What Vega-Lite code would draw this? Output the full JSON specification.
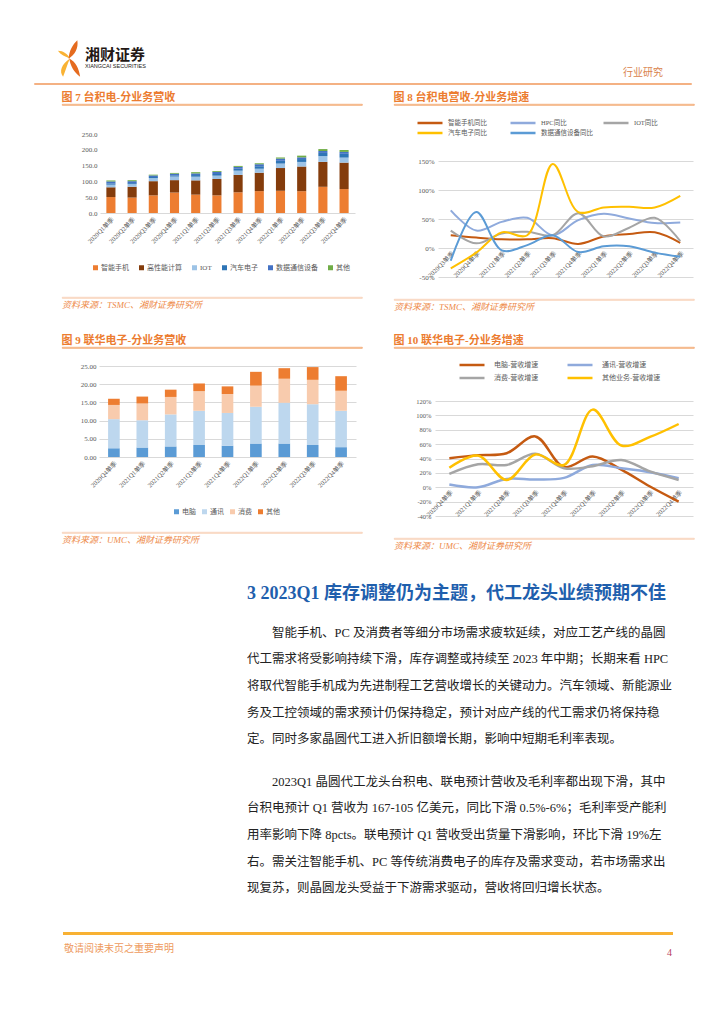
{
"$schema": "https://vega.github.io/schema/vega-lite/v6.json",
"background": "white",
"padding": {"left": 33, "top": 40, "right": 0, "bottom": 0},
"config": {
  "font": "Liberation Serif, Noto Sans CJK SC",
  "view": {"stroke": null},
  "axis": {"labelColor": "#595959", "labelFontSize": 7, "ticks": false, "domain": false, "grid": false, "gridColor": "#D9D9D9", "labelFont": "Liberation Serif, Noto Sans CJK SC"},
  "legend": {"labelColor": "#595959", "labelFontSize": 7, "labelFont": "Liberation Serif, Noto Sans CJK SC"},
  "title": {"font": "Liberation Serif, Noto Sans CJK SC"}
},
"resolve": {"scale": {"color": "independent", "shape": "independent"}, "legend": {"color": "independent", "shape": "independent"}},
"spacing": 0,
"vconcat": [
  {"spacing": 4, "resolve": {"scale": {"color": "independent", "shape": "independent"}}, "vconcat": [
    {"spacing": 0, "resolve": {"scale": {"color": "independent", "shape": "independent"}}, "hconcat": [
      {"width": 22, "height": 1, "data": {"values": []}, "mark": "point"},
      {"width": 26, "height": 37,
       "data": {"values": [{"part": "a"}, {"part": "b"}]},
       "mark": {"type": "point", "filled": true, "size": 1369, "opacity": 1, "strokeWidth": 0},
       "encoding": {
         "shape": {"field": "part", "type": "nominal", "scale": {"domain": ["a", "b"], "range": ["M0.05,0C-0.2,-0.1,-0.45,-0.2,-0.6,-0.42C-0.3,-0.42,-0.08,-0.25,0.05,0ZM0.05,0C-0.1,0.35,-0.2,0.7,-0.32,0.98C-0.55,0.7,-0.4,0.3,0.05,0Z", "M-0.02,0.02C0,-0.4,0.2,-0.75,0.45,-0.98C0.52,-0.55,0.32,-0.2,-0.02,0.02ZM0.02,0C0.35,0.18,0.55,0.55,0.6,0.98C0.28,0.75,0.06,0.4,0.02,0Z"]}, "legend": null},
         "color": {"field": "part", "type": "nominal", "scale": {"domain": ["a", "b"], "range": ["#F9B233", "#E56B1F"]}, "legend": null}
       }},
      {"width": 3, "height": 1, "data": {"values": []}, "mark": "point"},
      {"width": 60, "height": 1, "data": {"values": []}, "mark": "point",
       "title": {"text": "湘财证券", "subtitle": "XIANGCAI SECURITIES", "orient": "bottom", "anchor": "start", "offset": 7, "fontSize": 15, "fontWeight": "bold", "font": "Noto Sans CJK SC", "color": "#231815", "subtitleFontSize": 5.5, "subtitleFont": "Liberation Sans", "subtitleColor": "#231815", "subtitlePadding": 1}},
      {"width": 477, "height": 1, "data": {"values": []}, "mark": "point"},
      {"width": 40, "height": 1, "data": {"values": []}, "mark": "point",
       "title": {"text": "行业研究", "orient": "bottom", "anchor": "end", "offset": 27, "fontSize": 10, "font": "Noto Sans CJK SC", "fontWeight": "normal", "color": "#D9824B"}}
    ]},
    {"width": 657, "height": 1, "data": {"values": []}, "mark": "point", "view": {"stroke": "#F4B183", "strokeWidth": 1}}
  ]},
  {"width": 1, "height": 6, "data": {"values": []}, "mark": "point"},
  {"spacing": 0, "resolve": {"scale": {"color": "independent"}, "legend": {"color": "independent"}}, "hconcat": [
    {"width": 27, "height": 1, "data": {"values": []}, "mark": "point"},
    {"title": {"text": "图 7 台积电-分业务营收", "anchor": "start", "fontSize": 11, "fontWeight": "bold", "color": "#EC7C30", "offset": 1},
     "spacing": 0, "resolve": {"scale": {"color": "independent"}, "legend": {"color": "independent"}},
     "vconcat": [
      {"width": 300, "height": 1, "data": {"values": []}, "mark": "point", "view": {"stroke": "#F19D5F", "strokeWidth": 0.8}},
      {"width": 1, "height": 24, "data": {"values": []}, "mark": "point"},
      {"spacing": 18, "resolve": {"scale": {"color": "independent"}, "legend": {"color": "independent"}}, "hconcat": [
        {"width": 1, "height": 1, "data": {"values": []}, "mark": "point"},
        {"width": 255, "height": 79,
         "data": {"values": [
{"q":"2020Q1单季","s":"智能手机","k":1,"v":50.5},{"q":"2020Q1单季","s":"高性能计算","k":2,"v":30.9},{"q":"2020Q1单季","s":"IOT","k":3,"v":8.2},{"q":"2020Q1单季","s":"汽车电子","k":4,"v":4.1},{"q":"2020Q1单季","s":"数据通信设备","k":5,"v":6.2},{"q":"2020Q1单季","s":"其他","k":6,"v":3.1},
{"q":"2020Q2单季","s":"智能手机","k":1,"v":48.8},{"q":"2020Q2单季","s":"高性能计算","k":2,"v":34.3},{"q":"2020Q2单季","s":"IOT","k":3,"v":8.3},{"q":"2020Q2单季","s":"汽车电子","k":4,"v":3.1},{"q":"2020Q2单季","s":"数据通信设备","k":5,"v":6.2},{"q":"2020Q2单季","s":"其他","k":6,"v":3.1},
{"q":"2020Q3单季","s":"智能手机","k":1,"v":55.8},{"q":"2020Q3单季","s":"高性能计算","k":2,"v":44.9},{"q":"2020Q3单季","s":"IOT","k":3,"v":9.7},{"q":"2020Q3单季","s":"汽车电子","k":4,"v":3.6},{"q":"2020Q3单季","s":"数据通信设备","k":5,"v":4.9},{"q":"2020Q3单季","s":"其他","k":6,"v":2.4},
{"q":"2020Q4单季","s":"智能手机","k":1,"v":64.7},{"q":"2020Q4单季","s":"高性能计算","k":2,"v":39.3},{"q":"2020Q4单季","s":"IOT","k":3,"v":11.4},{"q":"2020Q4单季","s":"汽车电子","k":4,"v":3.8},{"q":"2020Q4单季","s":"数据通信设备","k":5,"v":5.1},{"q":"2020Q4单季","s":"其他","k":6,"v":2.5},
{"q":"2021Q1单季","s":"智能手机","k":1,"v":58.1},{"q":"2021Q1单季","s":"高性能计算","k":2,"v":45.2},{"q":"2021Q1单季","s":"IOT","k":3,"v":11.6},{"q":"2021Q1单季","s":"汽车电子","k":4,"v":5.2},{"q":"2021Q1单季","s":"数据通信设备","k":5,"v":5.2},{"q":"2021Q1单季","s":"其他","k":6,"v":3.9},
{"q":"2021Q2单季","s":"智能手机","k":1,"v":55.8},{"q":"2021Q2单季","s":"高性能计算","k":2,"v":51.8},{"q":"2021Q2单季","s":"IOT","k":3,"v":10.6},{"q":"2021Q2单季","s":"汽车电子","k":4,"v":5.3},{"q":"2021Q2单季","s":"数据通信设备","k":5,"v":6.6},{"q":"2021Q2单季","s":"其他","k":6,"v":2.7},
{"q":"2021Q3单季","s":"智能手机","k":1,"v":65.5},{"q":"2021Q3单季","s":"高性能计算","k":2,"v":55.1},{"q":"2021Q3单季","s":"IOT","k":3,"v":13.4},{"q":"2021Q3单季","s":"汽车电子","k":4,"v":6.0},{"q":"2021Q3单季","s":"数据通信设备","k":5,"v":6.0},{"q":"2021Q3单季","s":"其他","k":6,"v":3.0},
{"q":"2021Q4单季","s":"智能手机","k":1,"v":69.3},{"q":"2021Q4单季","s":"高性能计算","k":2,"v":58.2},{"q":"2021Q4单季","s":"IOT","k":3,"v":12.6},{"q":"2021Q4单季","s":"汽车电子","k":4,"v":7.9},{"q":"2021Q4单季","s":"数据通信设备","k":5,"v":6.3},{"q":"2021Q4单季","s":"其他","k":6,"v":3.1},
{"q":"2022Q1单季","s":"智能手机","k":1,"v":70.3},{"q":"2022Q1单季","s":"高性能计算","k":2,"v":72.0},{"q":"2022Q1单季","s":"IOT","k":3,"v":14.1},{"q":"2022Q1单季","s":"汽车电子","k":4,"v":8.8},{"q":"2022Q1单季","s":"数据通信设备","k":5,"v":7.0},{"q":"2022Q1单季","s":"其他","k":6,"v":3.5},
{"q":"2022Q2单季","s":"智能手机","k":1,"v":69.0},{"q":"2022Q2单季","s":"高性能计算","k":2,"v":78.1},{"q":"2022Q2单季","s":"IOT","k":3,"v":14.5},{"q":"2022Q2单季","s":"汽车电子","k":4,"v":9.1},{"q":"2022Q2单季","s":"数据通信设备","k":5,"v":5.4},{"q":"2022Q2单季","s":"其他","k":6,"v":5.4},
{"q":"2022Q3单季","s":"智能手机","k":1,"v":82.9},{"q":"2022Q3单季","s":"高性能计算","k":2,"v":78.9},{"q":"2022Q3单季","s":"IOT","k":3,"v":18.2},{"q":"2022Q3单季","s":"汽车电子","k":4,"v":10.1},{"q":"2022Q3单季","s":"数据通信设备","k":5,"v":6.1},{"q":"2022Q3单季","s":"其他","k":6,"v":6.1},
{"q":"2022Q4单季","s":"智能手机","k":1,"v":75.7},{"q":"2022Q4单季","s":"高性能计算","k":2,"v":83.7},{"q":"2022Q4单季","s":"IOT","k":3,"v":15.9},{"q":"2022Q4单季","s":"汽车电子","k":4,"v":12.0},{"q":"2022Q4单季","s":"数据通信设备","k":5,"v":6.0},{"q":"2022Q4单季","s":"其他","k":6,"v":6.0}
         ]},
         "mark": {"type": "bar"},
         "encoding": {
           "x": {"field": "q", "type": "ordinal", "sort": null, "scale": {"paddingInner": 0.57, "paddingOuter": 0.3}, "axis": {"title": null, "labelAngle": -45, "labelFontSize": 6.5, "domain": true, "domainColor": "#D9D9D9", "labelPadding": 3}},
           "y": {"field": "v", "type": "quantitative", "stack": "zero", "scale": {"domain": [0, 250], "nice": false}, "axis": {"title": null, "values": [0, 50, 100, 150, 200, 250], "format": ".1f", "labelPadding": 3}},
           "color": {"field": "s", "type": "nominal", "scale": {"domain": ["智能手机", "高性能计算", "IOT", "汽车电子", "数据通信设备", "其他"], "range": ["#ED7D31", "#843C0C", "#9DC3E6", "#2E75B6", "#4472C4", "#70AD47"]},
             "legend": {"title": null, "orient": "none", "direction": "horizontal", "legendX": -8, "legendY": 130, "symbolType": "square", "symbolSize": 25, "columnPadding": 9, "labelOffset": 2, "labelFontSize": 7}},
           "order": {"field": "k", "type": "quantitative", "sort": "ascending"}
         }}
      ]},
      {"width": 1, "height": 25, "data": {"values": []}, "mark": "point"},
      {"width": 300, "height": 1, "data": {"values": []}, "mark": "point", "view": {"stroke": "#F8CBAD", "strokeWidth": 0.8},
       "title": {"text": "资料来源：TSMC、湘财证券研究所", "orient": "bottom", "anchor": "start", "offset": 3, "fontSize": 9, "fontStyle": "italic", "fontWeight": "normal", "color": "#EE8B4A"}}
    ]},
    {"width": 30, "height": 1, "data": {"values": []}, "mark": "point"},
    {"title": {"text": "图 8 台积电营收-分业务增速", "anchor": "start", "fontSize": 11, "fontWeight": "bold", "color": "#EC7C30", "offset": 1},
     "spacing": 0, "resolve": {"scale": {"color": "independent"}, "legend": {"color": "independent"}},
     "vconcat": [
      {"width": 300, "height": 1, "data": {"values": []}, "mark": "point", "view": {"stroke": "#F19D5F", "strokeWidth": 0.8}},
      {"width": 1, "height": 13, "data": {"values": []}, "mark": "point"},
      {"spacing": 22, "resolve": {"scale": {"color": "independent"}, "legend": {"color": "independent"}}, "hconcat": [
        {"width": 1, "height": 1, "data": {"values": []}, "mark": "point"},
        {"width": 255, "height": 116,
         "data": {"values": [
{"q":"2020Q3单季","s":"智能手机同比","v":22},{"q":"2020Q4单季","s":"智能手机同比","v":18},{"q":"2021Q1单季","s":"智能手机同比","v":15},{"q":"2021Q2单季","s":"智能手机同比","v":15},{"q":"2021Q3单季","s":"智能手机同比","v":17},{"q":"2021Q4单季","s":"智能手机同比","v":7},{"q":"2022Q1单季","s":"智能手机同比","v":20},{"q":"2022Q2单季","s":"智能手机同比","v":24},{"q":"2022Q3单季","s":"智能手机同比","v":27},{"q":"2022Q4单季","s":"智能手机同比","v":9},
{"q":"2020Q3单季","s":"HPC同比","v":65},{"q":"2020Q4单季","s":"HPC同比","v":30},{"q":"2021Q1单季","s":"HPC同比","v":45},{"q":"2021Q2单季","s":"HPC同比","v":52},{"q":"2021Q3单季","s":"HPC同比","v":22},{"q":"2021Q4单季","s":"HPC同比","v":48},{"q":"2022Q1单季","s":"HPC同比","v":59},{"q":"2022Q2单季","s":"HPC同比","v":51},{"q":"2022Q3单季","s":"HPC同比","v":43},{"q":"2022Q4单季","s":"HPC同比","v":44},
{"q":"2020Q3单季","s":"IOT同比","v":30},{"q":"2020Q4单季","s":"IOT同比","v":8},{"q":"2021Q1单季","s":"IOT同比","v":25},{"q":"2021Q2单季","s":"IOT同比","v":28},{"q":"2021Q3单季","s":"IOT同比","v":22},{"q":"2021Q4单季","s":"IOT同比","v":60},{"q":"2022Q1单季","s":"IOT同比","v":20},{"q":"2022Q2单季","s":"IOT同比","v":35},{"q":"2022Q3单季","s":"IOT同比","v":52},{"q":"2022Q4单季","s":"IOT同比","v":12},
{"q":"2020Q3单季","s":"汽车电子同比","v":-35},{"q":"2020Q4单季","s":"汽车电子同比","v":-8},{"q":"2021Q1单季","s":"汽车电子同比","v":27},{"q":"2021Q2单季","s":"汽车电子同比","v":22},{"q":"2021Q3单季","s":"汽车电子同比","v":145},{"q":"2021Q4单季","s":"汽车电子同比","v":62},{"q":"2022Q1单季","s":"汽车电子同比","v":70},{"q":"2022Q2单季","s":"汽车电子同比","v":71},{"q":"2022Q3单季","s":"汽车电子同比","v":70},{"q":"2022Q4单季","s":"汽车电子同比","v":90},
{"q":"2020Q3单季","s":"数据通信设备同比","v":-22},{"q":"2020Q4单季","s":"数据通信设备同比","v":62},{"q":"2021Q1单季","s":"数据通信设备同比","v":-4},{"q":"2021Q2单季","s":"数据通信设备同比","v":5},{"q":"2021Q3单季","s":"数据通信设备同比","v":22},{"q":"2021Q4单季","s":"数据通信设备同比","v":-7},{"q":"2022Q1单季","s":"数据通信设备同比","v":3},{"q":"2022Q2单季","s":"数据通信设备同比","v":3},{"q":"2022Q3单季","s":"数据通信设备同比","v":-8},{"q":"2022Q4单季","s":"数据通信设备同比","v":-15}
         ]},
         "mark": {"type": "line", "interpolate": "catmull-rom", "strokeWidth": 2},
         "encoding": {
           "x": {"field": "q", "type": "ordinal", "sort": null, "scale": {"type": "point", "padding": 0.5}, "axis": {"title": null, "labelAngle": -45, "labelFontSize": 6.5, "offset": -29, "labelPadding": 2}},
           "y": {"field": "v", "type": "quantitative", "scale": {"domain": [-50, 150], "nice": false}, "axis": {"title": null, "values": [-50, 0, 50, 100, 150], "labelExpr": "datum.value + '%'", "grid": true, "labelPadding": 4}},
           "color": {"field": "s", "type": "nominal", "scale": {"domain": ["智能手机同比", "HPC同比", "IOT同比", "汽车电子同比", "数据通信设备同比"], "range": ["#C55A11", "#8FAADC", "#A5A5A5", "#FFC000", "#5B9BD5"]},
             "legend": {"title": null, "orient": "none", "direction": "horizontal", "legendX": -12, "legendY": -42, "columns": 3, "symbolType": "M-5,0L5,0", "symbolSize": 25, "symbolStrokeWidth": 2.5, "labelFontSize": 6.5, "rowPadding": 0, "columnPadding": 5, "gridAlign": "all", "labelOffset": 14}}
         }}
      ]},
      {"width": 1, "height": 18, "data": {"values": []}, "mark": "point"},
      {"width": 300, "height": 1, "data": {"values": []}, "mark": "point", "view": {"stroke": "#F8CBAD", "strokeWidth": 0.8},
       "title": {"text": "资料来源：TSMC、湘财证券研究所", "orient": "bottom", "anchor": "start", "offset": 3, "fontSize": 9, "fontStyle": "italic", "fontWeight": "normal", "color": "#EE8B4A"}}
    ]}
  ]},
  {"width": 1, "height": 21, "data": {"values": []}, "mark": "point"},
  {"spacing": 0, "resolve": {"scale": {"color": "independent"}, "legend": {"color": "independent"}}, "hconcat": [
    {"width": 27, "height": 1, "data": {"values": []}, "mark": "point"},
    {"title": {"text": "图 9 联华电子-分业务营收", "anchor": "start", "fontSize": 11, "fontWeight": "bold", "color": "#EC7C30", "offset": 1},
     "spacing": 0, "resolve": {"scale": {"color": "independent"}, "legend": {"color": "independent"}},
     "vconcat": [
      {"width": 300, "height": 1, "data": {"values": []}, "mark": "point", "view": {"stroke": "#F19D5F", "strokeWidth": 0.8}},
      {"width": 1, "height": 13, "data": {"values": []}, "mark": "point"},
      {"spacing": 17, "resolve": {"scale": {"color": "independent"}, "legend": {"color": "independent"}}, "hconcat": [
        {"width": 1, "height": 1, "data": {"values": []}, "mark": "point"},
        {"width": 257, "height": 91,
         "data": {"values": [
{"q":"2020Q4单季","s":"电脑","k":1,"v":2.4},{"q":"2020Q4单季","s":"通讯","k":2,"v":8.0},{"q":"2020Q4单季","s":"消费","k":3,"v":3.9},{"q":"2020Q4单季","s":"其他","k":4,"v":1.7},
{"q":"2021Q1单季","s":"电脑","k":1,"v":2.6},{"q":"2021Q1单季","s":"通讯","k":2,"v":7.5},{"q":"2021Q1单季","s":"消费","k":3,"v":4.6},{"q":"2021Q1单季","s":"其他","k":4,"v":1.9},
{"q":"2021Q2单季","s":"电脑","k":1,"v":2.9},{"q":"2021Q2单季","s":"通讯","k":2,"v":8.8},{"q":"2021Q2单季","s":"消费","k":3,"v":4.8},{"q":"2021Q2单季","s":"其他","k":4,"v":2.0},
{"q":"2021Q3单季","s":"电脑","k":1,"v":3.3},{"q":"2021Q3单季","s":"通讯","k":2,"v":9.4},{"q":"2021Q3单季","s":"消费","k":3,"v":5.4},{"q":"2021Q3单季","s":"其他","k":4,"v":2.1},
{"q":"2021Q4单季","s":"电脑","k":1,"v":3.1},{"q":"2021Q4单季","s":"通讯","k":2,"v":9.0},{"q":"2021Q4单季","s":"消费","k":3,"v":5.2},{"q":"2021Q4单季","s":"其他","k":4,"v":2.1},
{"q":"2022Q1单季","s":"电脑","k":1,"v":3.7},{"q":"2022Q1单季","s":"通讯","k":2,"v":10.1},{"q":"2022Q1单季","s":"消费","k":3,"v":5.8},{"q":"2022Q1单季","s":"其他","k":4,"v":3.8},
{"q":"2022Q2单季","s":"电脑","k":1,"v":3.7},{"q":"2022Q2单季","s":"通讯","k":2,"v":11.2},{"q":"2022Q2单季","s":"消费","k":3,"v":6.6},{"q":"2022Q2单季","s":"其他","k":4,"v":2.9},
{"q":"2022Q3单季","s":"电脑","k":1,"v":3.3},{"q":"2022Q3单季","s":"通讯","k":2,"v":11.2},{"q":"2022Q3单季","s":"消费","k":3,"v":6.7},{"q":"2022Q3单季","s":"其他","k":4,"v":3.5},
{"q":"2022Q4单季","s":"电脑","k":1,"v":2.7},{"q":"2022Q4单季","s":"通讯","k":2,"v":10.0},{"q":"2022Q4单季","s":"消费","k":3,"v":5.5},{"q":"2022Q4单季","s":"其他","k":4,"v":4.0}
         ]},
         "mark": {"type": "bar"},
         "encoding": {
           "x": {"field": "q", "type": "ordinal", "sort": null, "scale": {"paddingInner": 0.59, "paddingOuter": 0.32}, "axis": {"title": null, "labelAngle": -45, "labelFontSize": 6.5, "labelPadding": 3}},
           "y": {"field": "v", "type": "quantitative", "stack": "zero", "scale": {"domain": [0, 25], "nice": false}, "axis": {"title": null, "values": [0, 5, 10, 15, 20, 25], "format": ".2f", "grid": true, "labelPadding": 3}},
           "color": {"field": "s", "type": "nominal", "scale": {"domain": ["电脑", "通讯", "消费", "其他"], "range": ["#5B9BD5", "#BDD7EE", "#F8CBAD", "#ED7D31"]},
             "legend": {"title": null, "orient": "none", "direction": "horizontal", "legendX": 74, "legendY": 142, "symbolType": "square", "symbolSize": 25, "columnPadding": 5, "labelOffset": 2, "labelFontSize": 7}},
           "order": {"field": "k", "type": "quantitative", "sort": "ascending"}
         }}
      ]},
      {"width": 1, "height": 16, "data": {"values": []}, "mark": "point"},
      {"width": 300, "height": 1, "data": {"values": []}, "mark": "point", "view": {"stroke": "#F8CBAD", "strokeWidth": 0.8},
       "title": {"text": "资料来源：UMC、湘财证券研究所", "orient": "bottom", "anchor": "start", "offset": 3, "fontSize": 9, "fontStyle": "italic", "fontWeight": "normal", "color": "#EE8B4A"}}
    ]},
    {"width": 30, "height": 1, "data": {"values": []}, "mark": "point"},
    {"title": {"text": "图 10 联华电子-分业务增速", "anchor": "start", "fontSize": 11, "fontWeight": "bold", "color": "#EC7C30", "offset": 1},
     "spacing": 0, "resolve": {"scale": {"color": "independent"}, "legend": {"color": "independent"}},
     "vconcat": [
      {"width": 300, "height": 1, "data": {"values": []}, "mark": "point", "view": {"stroke": "#F19D5F", "strokeWidth": 0.8}},
      {"width": 1, "height": 12, "data": {"values": []}, "mark": "point"},
      {"spacing": 20, "resolve": {"scale": {"color": "independent"}, "legend": {"color": "independent"}}, "hconcat": [
        {"width": 1, "height": 1, "data": {"values": []}, "mark": "point"},
        {"width": 258, "height": 115,
         "data": {"values": [
{"q":"2020Q4单季","s":"电脑-营收增速","v":40.5},{"q":"2021Q1单季","s":"电脑-营收增速","v":44.7},{"q":"2021Q2单季","s":"电脑-营收增速","v":47.4},{"q":"2021Q3单季","s":"电脑-营收增速","v":70.7},{"q":"2021Q4单季","s":"电脑-营收增速","v":28},{"q":"2022Q1单季","s":"电脑-营收增速","v":42.8},{"q":"2022Q2单季","s":"电脑-营收增速","v":24.5},{"q":"2022Q3单季","s":"电脑-营收增速","v":1},{"q":"2022Q4单季","s":"电脑-营收增速","v":-20},
{"q":"2020Q4单季","s":"通讯-营收增速","v":3.7},{"q":"2021Q1单季","s":"通讯-营收增速","v":0},{"q":"2021Q2单季","s":"通讯-营收增速","v":11.6},{"q":"2021Q3单季","s":"通讯-营收增速","v":10.7},{"q":"2021Q4单季","s":"通讯-营收增速","v":13},{"q":"2022Q1单季","s":"通讯-营收增速","v":31},{"q":"2022Q2单季","s":"通讯-营收增速","v":26.5},{"q":"2022Q3单季","s":"通讯-营收增速","v":21},{"q":"2022Q4单季","s":"通讯-营收增速","v":12.6},
{"q":"2020Q4单季","s":"消费-营收增速","v":18.6},{"q":"2021Q1单季","s":"消费-营收增速","v":32},{"q":"2021Q2单季","s":"消费-营收增速","v":31},{"q":"2021Q3单季","s":"消费-营收增速","v":46.5},{"q":"2021Q4单季","s":"消费-营收增速","v":26.5},{"q":"2022Q1单季","s":"消费-营收增速","v":29.3},{"q":"2022Q2单季","s":"消费-营收增速","v":38},{"q":"2022Q3单季","s":"消费-营收增速","v":22},{"q":"2022Q4单季","s":"消费-营收增速","v":10.2},
{"q":"2020Q4单季","s":"其他业务-营收增速","v":27},{"q":"2021Q1单季","s":"其他业务-营收增速","v":44},{"q":"2021Q2单季","s":"其他业务-营收增速","v":10.2},{"q":"2021Q3单季","s":"其他业务-营收增速","v":45.6},{"q":"2021Q4单季","s":"其他业务-营收增速","v":31},{"q":"2022Q1单季","s":"其他业务-营收增速","v":108},{"q":"2022Q2单季","s":"其他业务-营收增速","v":58},{"q":"2022Q3单季","s":"其他业务-营收增速","v":70},{"q":"2022Q4单季","s":"其他业务-营收增速","v":88}
         ]},
         "mark": {"type": "line", "interpolate": "catmull-rom", "strokeWidth": 2.5},
         "encoding": {
           "x": {"field": "q", "type": "ordinal", "sort": null, "scale": {"type": "point", "padding": 0.5}, "axis": {"title": null, "labelAngle": -45, "labelFontSize": 6.5, "offset": -29, "labelPadding": 2}},
           "y": {"field": "v", "type": "quantitative", "scale": {"domain": [-40, 120], "nice": false}, "axis": {"title": null, "values": [-40, -20, 0, 20, 40, 60, 80, 100, 120], "labelExpr": "datum.value + '%'", "grid": true, "labelPadding": 4, "labelFontSize": 6.5}},
           "color": {"field": "s", "type": "nominal", "scale": {"domain": ["电脑-营收增速", "通讯-营收增速", "消费-营收增速", "其他业务-营收增速"], "range": ["#C55A11", "#8FAADC", "#A5A5A5", "#FFC000"]},
             "legend": {"title": null, "orient": "none", "direction": "horizontal", "legendX": 33, "legendY": -40, "columns": 2, "symbolType": "M-5,0L5,0", "symbolSize": 25, "symbolStrokeWidth": 2.5, "labelFontSize": 7, "rowPadding": 3, "columnPadding": 9, "gridAlign": "all", "labelOffset": 18}}
         }}
      ]},
      {"width": 1, "height": 17, "data": {"values": []}, "mark": "point"},
      {"width": 300, "height": 1, "data": {"values": []}, "mark": "point", "view": {"stroke": "#F8CBAD", "strokeWidth": 0.8},
       "title": {"text": "资料来源：UMC、湘财证券研究所", "orient": "bottom", "anchor": "start", "offset": 3, "fontSize": 9, "fontStyle": "italic", "fontWeight": "normal", "color": "#EE8B4A"}}
    ]}
  ]},
  {"width": 1, "height": 32, "data": {"values": []}, "mark": "point"},
  {"spacing": 0, "hconcat": [
    {"width": 213, "height": 1, "data": {"values": []}, "mark": "point"},
    {"title": {"text": "3 2023Q1 库存调整仍为主题，代工龙头业绩预期不佳", "anchor": "start", "fontSize": 18, "fontWeight": "bold", "color": "#1F5FAD", "offset": 24},
     "spacing": 26,
     "vconcat": [
      {"width": 423, "height": 1, "data": {"values": []}, "mark": "point",
       "title": {"text": ["\u200B\u3000\u3000智能手机、PC 及消费者等细分市场需求疲软延续，对应工艺产线的晶圆", "代工需求将受影响持续下滑，库存调整或持续至 2023 年中期；长期来看 HPC", "将取代智能手机成为先进制程工艺营收增长的关键动力。汽车领域、新能源业", "务及工控领域的需求预计仍保持稳定，预计对应产线的代工需求仍将保持稳", "定。同时多家晶圆代工进入折旧额增长期，影响中短期毛利率表现。"], "anchor": "start", "fontSize": 12.5, "lineHeight": 26.7, "fontWeight": "normal", "color": "#222222", "offset": 2}},
      {"width": 423, "height": 1, "data": {"values": []}, "mark": "point",
       "title": {"text": ["\u200B\u3000\u30002023Q1 晶圆代工龙头台积电、联电预计营收及毛利率都出现下滑，其中", "台积电预计 Q1 营收为 167-105 亿美元，同比下滑 0.5%-6%；毛利率受产能利", "用率影响下降 8pcts。联电预计 Q1 营收受出货量下滑影响，环比下滑 19%左", "右。需关注智能手机、PC 等传统消费电子的库存及需求变动，若市场需求出", "现复苏，则晶圆龙头受益于下游需求驱动，营收将回归增长状态。"], "anchor": "start", "fontSize": 12.5, "lineHeight": 26.7, "fontWeight": "normal", "color": "#222222", "offset": 2}}
    ]}
  ]},
  {"width": 1, "height": 34, "data": {"values": []}, "mark": "point"},
  {"spacing": 0, "hconcat": [
    {"width": 29, "height": 1, "data": {"values": []}, "mark": "point"},
    {"width": 560, "height": 1, "data": {"values": []}, "mark": "point", "view": {"stroke": "#F8B133", "strokeWidth": 2},
     "title": {"text": "敬请阅读末页之重要声明", "orient": "bottom", "anchor": "start", "offset": 10, "fontSize": 10, "font": "Noto Sans CJK SC", "fontWeight": "normal", "color": "#EE9A5E"}},
    {"width": 46, "height": 1, "data": {"values": []}, "mark": "point", "view": {"stroke": "#F8B133", "strokeWidth": 2},
     "title": {"text": "4", "orient": "bottom", "anchor": "end", "offset": 14, "fontSize": 10, "font": "Liberation Serif", "fontWeight": "normal", "color": "#B8405E"}}
  ]}
]
}
